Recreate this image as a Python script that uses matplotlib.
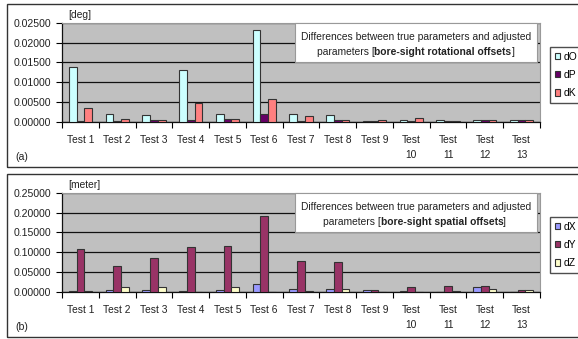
import numpy as np
import matplotlib
matplotlib.use("Agg")
import matplotlib.pyplot as plt
from matplotlib.patches import Patch, Rectangle

plt.rcParams['font.family'] = ['Liberation Sans', 'DejaVu Sans']

# ---------------------------------
# data

tests = ['Test 1', 'Test 2', 'Test 3', 'Test 4', 'Test 5', 'Test 6', 'Test 7',
         'Test 8', 'Test 9', 'Test\n10', 'Test\n11', 'Test\n12', 'Test\n13']

# rotational offsets [deg]
dO = [0.0138, 0.0019, 0.0017, 0.0130, 0.0018, 0.0233, 0.0018,
      0.0016, 0.0001, 0.0003, 0.0003, 0.0003, 0.0003]
dP = [0.0001, 0.0002, 0.0004, 0.0003, 0.0007, 0.0018, 0.0001,
      0.0004, 0.0001, 0.0001, 0.0002, 0.0003, 0.0003]
dK = [0.0033, 0.0006, 0.0005, 0.0048, 0.0006, 0.0058, 0.0014,
      0.0004, 0.0004, 0.0008, 0.0002, 0.0003, 0.0003]

# spatial offsets [meter]
dX = [0.001, 0.005, 0.005, 0.001, 0.005, 0.020, 0.007,
      0.007, 0.005, 0.001, 0.000, 0.011, 0.000]
dY = [0.108, 0.065, 0.086, 0.112, 0.116, 0.191, 0.077,
      0.075, 0.005, 0.011, 0.015, 0.014, 0.005]
dZ = [0.001, 0.011, 0.012, 0.000, 0.011, 0.000, 0.001,
      0.006, 0.000, 0.000, 0.002, 0.006, 0.005]

W, H = 578, 339
TXT = '#222222'


def fx(px):
    return px / W


def fy(py):
    return 1 - py / H


def draw_panel(fig, top, series, names, colors, ymax, unit, title_bold, tag,
               box_top, bold_cx):
    # outer frame of the panel
    fig.patches.append(Rectangle((fx(7), fy(box_top + 163)), fx(580) - fx(7),
                                 163 / H, transform=fig.transFigure,
                                 fill=False, edgecolor='#333333', lw=1))

    ax = fig.add_axes([fx(62), fy(top + 98.5), fx(540) - fx(62), 98.5 / H])
    ax.set_facecolor('#c0c0c0')
    x = np.arange(len(tests))
    bw = 0.21
    for i, (vals, c) in enumerate(zip(series, colors)):
        ax.bar(x + (i - 1) * bw, vals, bw, color=c, edgecolor='#333333',
               lw=0.8, zorder=3)
    ax.set_xlim(-0.5, len(tests) - 0.5)
    ax.set_ylim(0, ymax)
    ticks = np.linspace(0, ymax, 6)
    ax.set_yticks(ticks)
    ax.set_yticklabels(['%.5f' % t for t in ticks], fontsize=7.6, color=TXT)
    ax.yaxis.grid(True, color='#111111', lw=0.9, zorder=1)
    ax.set_xticks(x)
    ax.set_xticklabels(tests, fontsize=7.4, color=TXT, linespacing=1.6,
                       va='top')
    ax.set_xticks(np.arange(len(tests) + 1) - 0.5, minor=True)
    ax.tick_params(axis='x', which='major', length=0, pad=10)
    ax.tick_params(axis='x', which='minor', length=4, width=0.8, direction='out')
    ax.tick_params(axis='y', length=4, width=0.8, direction='out', pad=4)
    for s in ['top', 'right']:
        ax.spines[s].set_color('#999999')
        ax.spines[s].set_linewidth(0.8)
    for s in ['left', 'bottom']:
        ax.spines[s].set_color('#111111')
        ax.spines[s].set_linewidth(0.9)

    # unit label above the axis and panel tag
    fig.text(fx(68), fy(top - 8), unit, fontsize=7.4, va='center', ha='left',
             color=TXT)
    fig.text(fx(15), fy(box_top + 153), tag, fontsize=7.6, va='center',
             ha='left', color=TXT)

    # caption box inside the plot area
    ax.add_patch(Rectangle((fx(295), fy(top + 39)), fx(537) - fx(295), 39 / H,
                           transform=fig.transFigure, facecolor='white',
                           edgecolor='#999999', lw=0.8, zorder=5,
                           clip_on=False))
    ax.text(fx(416), fy(top + 14), 'Differences between true parameters and adjusted',
            transform=fig.transFigure, fontsize=7.4, ha='center', va='center',
            color=TXT, zorder=6)
    b = ax.text(fx(bold_cx), fy(top + 29), title_bold, transform=fig.transFigure,
                fontsize=7.4, fontweight='bold', ha='center', va='center',
                color=TXT, zorder=6)
    ax.annotate('parameters [', xy=(0, 0), xycoords=b, ha='right',
                va='bottom', fontsize=7.4, color=TXT,
                annotation_clip=False, zorder=6)
    ax.annotate(']', xy=(1, 0), xycoords=b, ha='left', va='bottom',
                fontsize=7.4, color=TXT, annotation_clip=False, zorder=6)

    handles = [Patch(facecolor=c, edgecolor='#333333', lw=0.8) for c in colors]
    fig.legend(handles, names, loc='upper left',
               bbox_to_anchor=(fx(550), fy(top + 24)), fontsize=7.4,
               frameon=True, fancybox=False, edgecolor=TXT,
               handlelength=0.55, handleheight=0.55, handletextpad=0.3,
               labelspacing=0.8, borderpad=0.45, borderaxespad=0)
    return ax


fig = plt.figure(figsize=(W / 100, H / 100), dpi=100)
fig.patch.set_facecolor('white')

draw_panel(fig, 23, [dO, dP, dK], ['dO', 'dP', 'dK'],
           ['#ccffff', '#660066', '#ff8080'], 0.025, '[deg]',
           'bore-sight rotational offsets', '(a)', 4.5, 443)
draw_panel(fig, 193, [dX, dY, dZ], ['dX', 'dY', 'dZ'],
           ['#9999ff', '#993366', '#ffffcc'], 0.25, '[meter]',
           'bore-sight spatial offsets', '(b)', 174, 442)

fig.savefig('out.png', dpi=100)
